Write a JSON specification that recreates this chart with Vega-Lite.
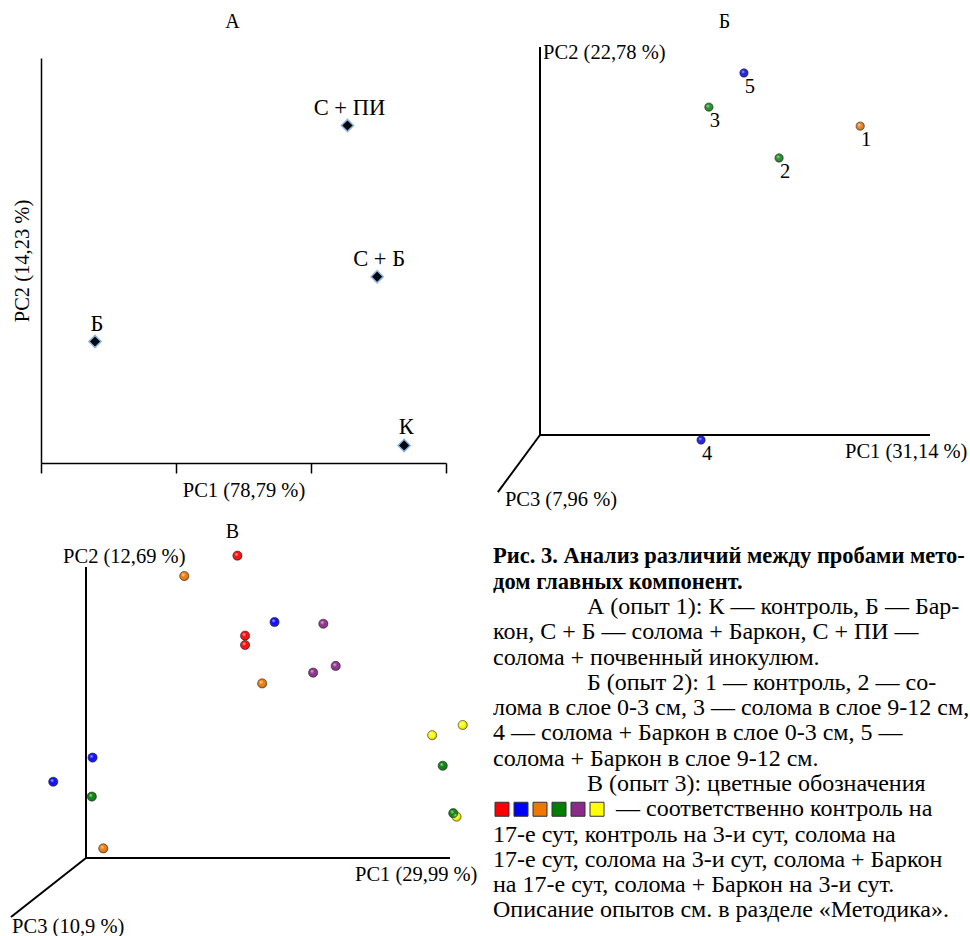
{
  "$schema": "https://vega.github.io/schema/vega-lite/v6.json",
  "background": "white",
  "padding": 0,
  "autosize": {"type": "pad"},
  "columns": 2,
  "spacing": 0,
  "bounds": "flush",
  "config": {
    "view": {"stroke": null},
    "font": "Liberation Serif, Times New Roman, serif",
    "title": {"font": "Liberation Serif, Times New Roman, serif", "fontSize": 20, "fontWeight": "normal", "color": "#000000", "anchor": "middle", "frame": "group"},
    "axis": {"grid": false, "labelFont": "Liberation Serif, Times New Roman, serif", "titleFont": "Liberation Serif, Times New Roman, serif"},
    "text": {"font": "Liberation Serif, Times New Roman, serif", "color": "#000000"}
  },
  "resolve": {"scale": {"color": "independent"}},
  "datasets": {
    "panelA": [
      {"label": "Б", "pc1": 0.40, "pc2": 0.90},
      {"label": "С + ПИ", "pc1": 2.27, "pc2": 2.50},
      {"label": "С + Б", "pc1": 2.49, "pc2": 1.38},
      {"label": "К", "pc1": 2.69, "pc2": 0.13}
    ],
    "axesB": [
      {"axis": "PC1", "x": 0, "y": 0, "x2": 1, "y2": 0},
      {"axis": "PC2", "x": 0, "y": 0, "x2": 0, "y2": 1},
      {"axis": "PC3", "x": 0, "y": 0, "x2": -0.108, "y2": -0.147}
    ],
    "axisLabelsB": [
      {"label": "PC2 (22,78 %)", "x": 0.008, "y": 0.985},
      {"label": "PC1 (31,14 %)", "x": 0.782, "y": -0.044},
      {"label": "PC3 (7,96 %)", "x": -0.09, "y": -0.1675}
    ],
    "panelB": [
      {"sample": "1", "treatment": "контроль", "x": 0.821, "y": 0.796},
      {"sample": "2", "treatment": "солома в слое 0-3 см", "x": 0.613, "y": 0.714},
      {"sample": "3", "treatment": "солома в слое 9-12 см", "x": 0.433, "y": 0.845},
      {"sample": "4", "treatment": "солома + Баркон в слое 0-3 см", "x": 0.413, "y": -0.013},
      {"sample": "5", "treatment": "солома + Баркон в слое 9-12 см", "x": 0.523, "y": 0.933}
    ],
    "axesV": [
      {"axis": "PC1", "x": 0, "y": 0, "x2": 1, "y2": 0},
      {"axis": "PC2", "x": 0, "y": 0, "x2": 0, "y2": 1},
      {"axis": "PC3", "x": 0, "y": 0, "x2": -0.206, "y2": -0.203}
    ],
    "axisLabelsV": [
      {"label": "PC2 (12,69 %)", "x": -0.063, "y": 1.034},
      {"label": "PC1 (29,99 %)", "x": 0.739, "y": -0.058},
      {"label": "PC3 (10,9 %)", "x": -0.203, "y": -0.237}
    ],
    "panelV": [
      {"group": "контроль на 17-е сут", "x": 0.416, "y": 1.039},
      {"group": "контроль на 17-е сут", "x": 0.437, "y": 0.764},
      {"group": "контроль на 17-е сут", "x": 0.437, "y": 0.732},
      {"group": "солома на 17-е сут", "x": 0.270, "y": 0.969},
      {"group": "солома на 17-е сут", "x": 0.484, "y": 0.600},
      {"group": "солома на 17-е сут", "x": 0.0475, "y": 0.033},
      {"group": "контроль на 3-и сут", "x": 0.518, "y": 0.811},
      {"group": "контроль на 3-и сут", "x": 0.018, "y": 0.345},
      {"group": "контроль на 3-и сут", "x": -0.090, "y": 0.262},
      {"group": "солома + Баркон на 17-е сут", "x": 0.652, "y": 0.805},
      {"group": "солома + Баркон на 17-е сут", "x": 0.686, "y": 0.660},
      {"group": "солома + Баркон на 17-е сут", "x": 0.624, "y": 0.637},
      {"group": "солома + Баркон на 3-и сут", "x": 1.035, "y": 0.457},
      {"group": "солома + Баркон на 3-и сут", "x": 0.951, "y": 0.422},
      {"group": "солома + Баркон на 3-и сут", "x": 1.018, "y": 0.142},
      {"group": "солома на 3-и сут", "x": 0.980, "y": 0.317},
      {"group": "солома на 3-и сут", "x": 0.016, "y": 0.211},
      {"group": "солома на 3-и сут", "x": 1.009, "y": 0.154}
    ],
    "caption": [
      {"line": 1, "indent": 0, "part": "heading", "text": "Рис. 3. Анализ различий между пробами мето-"},
      {"line": 2, "indent": 0, "part": "heading", "text": "дом главных компонент."},
      {"line": 3, "indent": 1, "part": "body", "text": "А (опыт 1): К — контроль, Б — Бар-"},
      {"line": 4, "indent": 0, "part": "body", "text": "кон, С + Б — солома + Баркон, С + ПИ —"},
      {"line": 5, "indent": 0, "part": "body", "text": "солома + почвенный инокулюм."},
      {"line": 6, "indent": 1, "part": "body", "text": "Б (опыт 2): 1 — контроль, 2 — со-"},
      {"line": 7, "indent": 0, "part": "body", "text": "лома в слое 0-3 см, 3 — солома в слое 9-12 см,"},
      {"line": 8, "indent": 0, "part": "body", "text": "4 — солома + Баркон в слое 0-3 см, 5 —"},
      {"line": 9, "indent": 0, "part": "body", "text": "солома + Баркон в слое 9-12 см."},
      {"line": 10, "indent": 1, "part": "body", "text": "В (опыт 3): цветные обозначения"},
      {"line": 12, "indent": 0, "part": "body", "text": "17-е сут, контроль на 3-и сут, солома на"},
      {"line": 13, "indent": 0, "part": "body", "text": "17-е сут, солома на 3-и сут, солома + Баркон"},
      {"line": 14, "indent": 0, "part": "body", "text": "на 17-е сут, солома + Баркон на 3-и сут."},
      {"line": 15, "indent": 0, "part": "body", "text": "Описание опытов см. в разделе «Методика»."}
    ],
    "legendC": [
      {"slot": 1, "line": 11, "group": "контроль на 17-е сут"},
      {"slot": 2, "line": 11, "group": "контроль на 3-и сут"},
      {"slot": 3, "line": 11, "group": "солома на 17-е сут"},
      {"slot": 4, "line": 11, "group": "солома на 3-и сут"},
      {"slot": 5, "line": 11, "group": "солома + Баркон на 17-е сут"},
      {"slot": 6, "line": 11, "group": "солома + Баркон на 3-и сут"}
    ],
    "legendText": [
      {"slot": 7, "line": 11, "text": "— соответственно контроль на"}
    ]
  },
  "concat": [
    {
      "width": 465,
      "height": 510,
      "title": {"text": "А", "offset": -32},
      "data": {"name": "panelA"},
      "encoding": {
        "x": {"field": "pc1", "type": "quantitative",
          "scale": {"domain": [0, 3], "range": [41, 446]},
          "axis": {"orient": "bottom", "offset": -47, "values": [0, 1, 2, 3], "labels": false, "ticks": true, "tickSize": 10, "tickWidth": 1.5, "tickColor": "#000000", "domainColor": "#000000", "domainWidth": 1.5, "title": "PC1 (78,79 %)", "titleFontSize": 20.5, "titleFontWeight": "normal", "titleColor": "#000000", "titlePadding": 7}},
        "y": {"field": "pc2", "type": "quantitative",
          "scale": {"domain": [0, 3], "range": [463, 58]},
          "axis": {"orient": "left", "offset": -41, "labels": false, "ticks": false, "domainColor": "#000000", "domainWidth": 1.5, "title": "PC2 (14,23 %)", "titleFontSize": 20.5, "titleFontWeight": "normal", "titleColor": "#000000", "titlePadding": 9}}
      },
      "layer": [
        {"mark": {"type": "point", "shape": "diamond", "filled": true, "size": 150, "fill": "#05070f", "stroke": "#8db7df", "strokeWidth": 1.5, "opacity": 1}},
        {"mark": {"type": "text", "fontSize": 22.5, "dy": -11, "dx": 2, "baseline": "alphabetic", "align": "center"},
         "encoding": {"text": {"field": "label"}}}
      ]
    },
    {
      "width": 505,
      "height": 510,
      "title": {"text": "Б", "offset": -32, "dx": 7},
      "layer": [
        {"data": {"name": "axesB"},
         "mark": {"type": "rule", "color": "#000000", "strokeWidth": 2},
         "encoding": {
           "x": {"field": "x", "type": "quantitative", "scale": {"domain": [0, 1], "range": [75, 465]}, "axis": null},
           "y": {"field": "y", "type": "quantitative", "scale": {"domain": [0, 1], "range": [435, 47]}, "axis": null},
           "x2": {"field": "x2"},
           "y2": {"field": "y2"}}},
        {"data": {"name": "axisLabelsB"},
         "mark": {"type": "text", "align": "left", "baseline": "middle", "fontSize": 20.5},
         "encoding": {
           "x": {"field": "x", "type": "quantitative"},
           "y": {"field": "y", "type": "quantitative"},
           "text": {"field": "label"}}},
        {"data": {"name": "panelB"},
         "mark": {"type": "circle", "size": 70, "opacity": 1, "stroke": "#1a1a1a", "strokeWidth": 0.5},
         "encoding": {
           "x": {"field": "x", "type": "quantitative"},
           "y": {"field": "y", "type": "quantitative"},
           "color": {"field": "treatment", "type": "nominal",
             "scale": {"domain": ["контроль", "солома в слое 0-3 см", "солома в слое 9-12 см", "солома + Баркон в слое 0-3 см", "солома + Баркон в слое 9-12 см"],
                       "range": ["#e8801e", "#1e8c1e", "#1e8c1e", "#1515e6", "#1515e6"]},
             "legend": null}}},
        {"data": {"name": "panelB"},
         "mark": {"type": "circle", "size": 70, "opacity": 1, "strokeWidth": 0,
                  "fill": {"gradient": "radial", "x1": 0.35, "y1": 0.32, "r1": 0, "x2": 0.5, "y2": 0.5, "r2": 0.55,
                           "stops": [{"offset": 0, "color": "rgba(255,255,255,0.75)"}, {"offset": 0.45, "color": "rgba(255,255,255,0)"}, {"offset": 1, "color": "rgba(0,0,0,0.45)"}]}},
         "encoding": {
           "x": {"field": "x", "type": "quantitative"},
           "y": {"field": "y", "type": "quantitative"}}},
        {"data": {"name": "panelB"},
         "mark": {"type": "text", "dx": 6, "dy": 14, "fontSize": 20.5, "baseline": "middle", "align": "center"},
         "encoding": {
           "x": {"field": "x", "type": "quantitative"},
           "y": {"field": "y", "type": "quantitative"},
           "text": {"field": "sample"}}}
      ]
    },
    {
      "width": 465,
      "height": 426,
      "title": {"text": "В", "offset": -32},
      "layer": [
        {"data": {"name": "axesV"},
         "mark": {"type": "rule", "color": "#000000", "strokeWidth": 2},
         "encoding": {
           "x": {"field": "x", "type": "quantitative", "scale": {"domain": [0, 1], "range": [86, 450]}, "axis": null},
           "y": {"field": "y", "type": "quantitative", "scale": {"domain": [0, 1], "range": [348, 57]}, "axis": null},
           "x2": {"field": "x2"},
           "y2": {"field": "y2"}}},
        {"data": {"name": "axisLabelsV"},
         "mark": {"type": "text", "align": "left", "baseline": "middle", "fontSize": 20.5},
         "encoding": {
           "x": {"field": "x", "type": "quantitative"},
           "y": {"field": "y", "type": "quantitative"},
           "text": {"field": "label"}}},
        {"data": {"name": "panelV"},
         "mark": {"type": "circle", "size": 85, "opacity": 1, "stroke": "#1a1a1a", "strokeWidth": 0.5},
         "encoding": {
           "x": {"field": "x", "type": "quantitative"},
           "y": {"field": "y", "type": "quantitative"},
           "color": {"field": "group", "type": "nominal",
             "scale": {"domain": ["контроль на 17-е сут", "контроль на 3-и сут", "солома на 17-е сут", "солома на 3-и сут", "солома + Баркон на 17-е сут", "солома + Баркон на 3-и сут"],
                       "range": ["#ff0000", "#0000ff", "#f07800", "#008000", "#8c2a8c", "#ffff00"]},
             "legend": null}}},
        {"data": {"name": "panelV"},
         "mark": {"type": "circle", "size": 85, "opacity": 1, "strokeWidth": 0,
                  "fill": {"gradient": "radial", "x1": 0.35, "y1": 0.32, "r1": 0, "x2": 0.5, "y2": 0.5, "r2": 0.55,
                           "stops": [{"offset": 0, "color": "rgba(255,255,255,0.75)"}, {"offset": 0.45, "color": "rgba(255,255,255,0)"}, {"offset": 1, "color": "rgba(0,0,0,0.45)"}]}},
         "encoding": {
           "x": {"field": "x", "type": "quantitative"},
           "y": {"field": "y", "type": "quantitative"}}}
      ]
    },
    {
      "width": 505,
      "height": 426,
      "resolve": {"scale": {"x": "independent"}},
      "layer": [
        {"data": {"name": "caption"},
         "transform": [{"filter": "datum.part === 'heading'"}],
         "mark": {"type": "text", "align": "left", "baseline": "middle", "fontSize": 22.5, "fontWeight": "bold"},
         "encoding": {
           "x": {"field": "indent", "type": "quantitative", "scale": {"domain": [0, 1], "range": [28, 122]}, "axis": null},
           "y": {"field": "line", "type": "quantitative", "scale": {"domain": [1, 15], "range": [46.4, 400.4]}, "axis": null},
           "text": {"field": "text"}}},
        {"data": {"name": "caption"},
         "transform": [{"filter": "datum.part === 'body'"}],
         "mark": {"type": "text", "align": "left", "baseline": "middle", "fontSize": 24},
         "encoding": {
           "x": {"field": "indent", "type": "quantitative", "scale": {"domain": [0, 1], "range": [28, 122]}, "axis": null},
           "y": {"field": "line", "type": "quantitative", "axis": null},
           "text": {"field": "text"}}},
        {"data": {"name": "legendC"},
         "mark": {"type": "square", "size": 196, "opacity": 1, "stroke": "#333333", "strokeWidth": 1},
         "encoding": {
           "x": {"field": "slot", "type": "quantitative", "scale": {"domain": [1, 6], "range": [37, 132]}, "axis": null},
           "y": {"field": "line", "type": "quantitative", "axis": null},
           "color": {"field": "group", "type": "nominal",
             "scale": {"domain": ["контроль на 17-е сут", "контроль на 3-и сут", "солома на 17-е сут", "солома на 3-и сут", "солома + Баркон на 17-е сут", "солома + Баркон на 3-и сут"],
                       "range": ["#ff0000", "#0000ff", "#f07800", "#008000", "#8c2a8c", "#ffff00"]},
             "legend": null}}},
        {"data": {"name": "legendText"},
         "mark": {"type": "text", "align": "left", "baseline": "middle", "fontSize": 24},
         "encoding": {
           "x": {"field": "slot", "type": "quantitative", "scale": {"domain": [1, 6], "range": [37, 132]}, "axis": null},
           "y": {"field": "line", "type": "quantitative", "axis": null},
           "text": {"field": "text"}}}
      ]
    }
  ]
}
